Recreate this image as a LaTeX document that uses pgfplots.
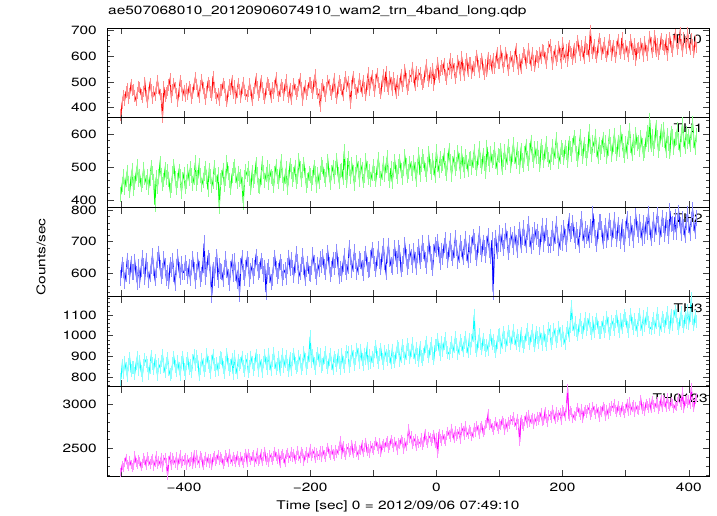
\documentclass[border=0pt]{standalone}
\usepackage{fontspec}
\setmainfont{TeX Gyre Heros}[FakeStretch=1.29]
\usepackage{pgfplots}
\usepackage{pgfplotstable}
\pgfplotsset{compat=1.18}
\definecolor{qred}{RGB}{255,0,0}
\definecolor{qgreen}{RGB}{0,255,0}
\definecolor{qblue}{RGB}{0,0,255}
\definecolor{qcyan}{RGB}{0,255,255}
\definecolor{qmagenta}{RGB}{255,0,255}

% TH0, 2 s bins from -500 s
\pgfplotstableread[row sep=\\]{y\\
372\\418\\447\\430\\461\\472\\438\\455\\490\\466\\
470\\445\\429\\458\\483\\478\\451\\440\\463\\497\\
447\\421\\459\\493\\471\\438\\462\\449\\476\\505\\
474\\452\\435\\365\\481\\446\\458\\466\\488\\512\\
440\\469\\495\\478\\455\\427\\462\\503\\484\\449\\
468\\444\\475\\452\\480\\471\\436\\458\\490\\517\\
491\\465\\442\\486\\509\\477\\456\\433\\461\\498\\
486\\461\\447\\522\\479\\456\\438\\453\\428\\470\\
469\\495\\481\\450\\424\\463\\488\\472\\505\\458\\
485\\436\\460\\494\\471\\441\\476\\499\\467\\452\\
445\\463\\492\\468\\430\\457\\475\\511\\482\\448\\
461\\504\\479\\453\\436\\470\\498\\489\\472\\440\\
476\\455\\487\\515\\468\\443\\462\\491\\478\\449\\
488\\507\\462\\441\\475\\432\\466\\493\\471\\454\\
463\\488\\512\\476\\430\\460\\484\\452\\468\\497\\
496\\481\\458\\503\\527\\470\\455\\449\\404\\472\\
489\\462\\443\\478\\506\\491\\466\\452\\485\\513\\
461\\437\\475\\503\\488\\470\\448\\496\\520\\482\\
500\\473\\418\\486\\521\\495\\470\\458\\479\\512\\
485\\462\\505\\476\\449\\492\\535\\468\\497\\523\\
488\\463\\510\\531\\497\\474\\456\\502\\527\\485\\
540\\483\\471\\519\\496\\469\\515\\492\\458\\506\\
466\\495\\527\\482\\503\\548\\512\\470\\488\\525\\
522\\556\\518\\487\\540\\503\\528\\534\\509\\491\\
497\\541\\566\\525\\503\\537\\515\\552\\488\\530\\
539\\575\\520\\544\\562\\548\\571\\526\\512\\553\\
548\\591\\532\\570\\551\\516\\538\\583\\559\\527\\
598\\552\\526\\565\\589\\541\\574\\573\\534\\561\\
546\\580\\603\\563\\538\\571\\592\\549\\528\\566\\
540\\595\\568\\583\\551\\589\\552\\578\\612\\571\\
571\\620\\592\\556\\579\\615\\586\\544\\573\\598\\
581\\560\\597\\627\\574\\548\\588\\552\\590\\613\\
606\\571\\595\\628\\590\\566\\612\\583\\560\\601\\
597\\578\\615\\590\\624\\620\\594\\571\\608\\635\\
645\\617\\569\\599\\623\\584\\601\\638\\610\\573\\
652\\607\\594\\626\\580\\641\\618\\611\\588\\630\\
597\\635\\660\\623\\602\\640\\618\\592\\655\\628\\
625\\601\\700\\630\\612\\645\\612\\596\\633\\668\\
648\\607\\632\\653\\616\\598\\627\\662\\640\\603\\
642\\618\\595\\637\\664\\626\\610\\671\\629\\606\\
641\\619\\598\\635\\662\\627\\609\\648\\583\\630\\
633\\612\\650\\627\\601\\655\\622\\604\\641\\676\\
652\\614\\638\\681\\620\\649\\607\\626\\668\\645\\
641\\625\\662\\603\\648\\671\\636\\618\\659\\684\\
664\\627\\650\\689\\644\\618\\672\\657\\631\\690\\
652\\626\\668\\643\\615\\661\\634\\
}\tA

% TH1
\pgfplotstableread[row sep=\\]{y\\
418\\447\\472\\439\\461\\485\\450\\428\\466\\491\\
436\\452\\479\\503\\462\\473\\446\\458\\494\\467\\
454\\471\\438\\465\\498\\482\\457\\386\\469\\441\\
472\\510\\476\\449\\461\\493\\468\\487\\463\\430\\
445\\480\\502\\466\\437\\459\\488\\471\\426\\463\\
479\\440\\455\\487\\465\\496\\474\\451\\468\\513\\
450\\468\\505\\474\\446\\459\\481\\497\\470\\432\\
489\\472\\443\\457\\498\\476\\452\\478\\380\\461\\
469\\491\\447\\466\\515\\482\\460\\437\\475\\494\\
503\\474\\456\\481\\462\\471\\449\\392\\468\\486\\
476\\496\\466\\439\\483\\458\\470\\507\\479\\445\\
441\\469\\512\\485\\460\\477\\498\\452\\488\\471\\
466\\443\\481\\503\\472\\455\\490\\517\\474\\449\\
471\\495\\438\\469\\506\\487\\462\\478\\500\\456\\
470\\520\\495\\463\\488\\509\\476\\445\\459\\481\\
474\\451\\468\\499\\482\\445\\478\\456\\482\\507\\
500\\473\\462\\491\\518\\476\\452\\484\\500\\470\\
497\\521\\479\\455\\488\\491\\468\\547\\483\\460\\
527\\495\\470\\508\\485\\451\\478\\513\\496\\462\\
506\\492\\458\\474\\519\\496\\468\\487\\462\\479\\
503\\480\\461\\497\\524\\489\\466\\482\\512\\478\\
503\\528\\481\\459\\497\\455\\493\\517\\485\\470\\
501\\518\\489\\468\\494\\532\\505\\473\\487\\512\\
496\\480\\514\\492\\463\\503\\537\\476\\508\\531\\
518\\491\\476\\509\\540\\502\\483\\521\\497\\474\\
546\\507\\490\\525\\503\\511\\534\\496\\481\\519\\
549\\516\\478\\512\\528\\494\\509\\543\\521\\487\\
541\\507\\488\\532\\515\\493\\524\\526\\499\\518\\
548\\512\\496\\527\\555\\519\\501\\536\\510\\487\\
561\\524\\507\\542\\518\\529\\553\\517\\499\\536\\
533\\551\\498\\521\\546\\512\\528\\563\\539\\504\\
538\\568\\531\\515\\553\\527\\502\\549\\520\\506\\
541\\564\\526\\511\\549\\576\\537\\518\\555\\532\\
556\\530\\507\\563\\544\\518\\547\\571\\538\\522\\
512\\536\\562\\528\\545\\583\\550\\517\\532\\559\\
551\\528\\560\\542\\518\\572\\556\\537\\566\\589\\
571\\540\\523\\558\\593\\556\\531\\569\\548\\526\\
548\\607\\561\\537\\575\\563\\594\\553\\532\\570\\
543\\560\\585\\551\\574\\530\\556\\592\\569\\538\\
566\\597\\560\\539\\576\\552\\604\\578\\549\\533\\
571\\546\\588\\612\\565\\541\\579\\557\\598\\570\\
575\\551\\589\\566\\540\\548\\583\\605\\568\\642\\
568\\593\\555\\576\\620\\590\\548\\571\\607\\582\\
614\\578\\550\\597\\571\\545\\603\\592\\557\\584\\
587\\615\\574\\552\\596\\628\\581\\560\\603\\577\\
592\\566\\604\\631\\580\\558\\596\\
}\tB

% TH2
\pgfplotstableread[row sep=\\]{y\\
585\\628\\611\\574\\596\\640\\618\\592\\631\\603\\
605\\637\\598\\571\\620\\577\\614\\648\\622\\589\\
638\\612\\579\\597\\624\\655\\616\\583\\609\\643\\
663\\618\\590\\608\\645\\622\\585\\601\\574\\626\\
612\\640\\596\\568\\621\\652\\610\\587\\629\\604\\
602\\633\\615\\590\\621\\583\\618\\645\\609\\576\\
604\\641\\615\\581\\596\\627\\695\\588\\612\\650\\
639\\596\\530\\612\\586\\627\\651\\579\\622\\608\\
603\\580\\618\\644\\611\\588\\570\\615\\636\\598\\
639\\601\\576\\611\\535\\622\\648\\605\\584\\617\\
645\\628\\581\\607\\622\\590\\616\\652\\631\\604\\
611\\640\\623\\597\\618\\540\\608\\619\\594\\573\\
586\\625\\649\\614\\592\\607\\636\\621\\583\\603\\
609\\588\\624\\650\\617\\642\\618\\595\\627\\661\\
636\\590\\603\\628\\654\\621\\584\\612\\631\\599\\
598\\618\\657\\634\\607\\589\\628\\612\\645\\626\\
651\\619\\603\\639\\665\\628\\596\\614\\643\\621\\
641\\669\\626\\592\\615\\597\\630\\655\\618\\604\\
624\\681\\652\\610\\630\\667\\638\\605\\621\\646\\
639\\617\\601\\645\\663\\628\\610\\612\\648\\674\\
655\\631\\612\\647\\676\\640\\619\\660\\686\\635\\
605\\657\\688\\646\\625\\618\\653\\679\\644\\623\\
681\\664\\612\\629\\656\\690\\651\\619\\637\\668\\
652\\627\\670\\643\\618\\659\\684\\638\\661\\695\\
671\\642\\624\\660\\698\\663\\635\\616\\667\\690\\
678\\700\\659\\636\\672\\652\\688\\706\\669\\641\\
677\\702\\664\\648\\672\\712\\681\\640\\657\\695\\
676\\650\\684\\710\\663\\641\\697\\658\\689\\715\\
703\\668\\648\\691\\725\\684\\660\\698\\679\\657\\
694\\718\\672\\655\\705\\540\\687\\713\\670\\692\\
727\\693\\718\\679\\701\\735\\709\\666\\688\\721\\
706\\683\\724\\698\\672\\715\\739\\690\\716\\744\\
712\\689\\731\\756\\708\\685\\722\\700\\737\\716\\
733\\708\\684\\724\\752\\694\\728\\749\\713\\689\\
689\\712\\740\\695\\718\\757\\722\\681\\700\\729\\
697\\744\\716\\692\\730\\766\\724\\735\\760\\721\\
702\\738\\715\\690\\747\\772\\727\\706\\741\\718\\
728\\704\\748\\721\\790\\746\\712\\694\\733\\762\\
763\\740\\701\\727\\752\\705\\731\\768\\745\\710\\
737\\770\\733\\710\\754\\729\\703\\748\\716\\694\\
741\\772\\736\\711\\756\\729\\705\\748\\781\\740\\
722\\764\\738\\712\\759\\719\\755\\730\\790\\747\\
713\\737\\769\\724\\748\\785\\757\\716\\741\\776\\
752\\726\\770\\744\\719\\798\\755\\758\\731\\779\\
730\\768\\793\\754\\727\\772\\746\\720\\763\\788\\
752\\729\\771\\801\\758\\733\\776\\
}\tC

% TH3
\pgfplotstableread[row sep=\\]{y\\
790\\856\\820\\871\\843\\808\\862\\889\\831\\848\\
846\\819\\863\\897\\837\\875\\829\\807\\858\\884\\
873\\857\\816\\848\\901\\866\\839\\880\\852\\811\\
861\\847\\878\\905\\852\\826\\868\\889\\834\\812\\
822\\865\\893\\851\\830\\874\\841\\812\\869\\896\\
835\\818\\866\\889\\843\\857\\826\\879\\904\\860\\
900\\877\\814\\840\\886\\863\\829\\855\\908\\872\\
851\\823\\878\\905\\859\\832\\866\\836\\869\\894\\
891\\847\\820\\873\\909\\862\\838\\857\\884\\815\\
902\\846\\821\\880\\858\\868\\897\\853\\829\\875\\
886\\825\\850\\897\\871\\838\\862\\906\\879\\833\\
881\\858\\826\\873\\904\\867\\840\\912\\864\\837\\
879\\915\\868\\842\\859\\893\\835\\877\\908\\851\\
876\\902\\858\\831\\889\\838\\884\\912\\867\\845\\
854\\899\\880\\839\\861\\918\\885\\843\\870\\906\\
995\\876\\903\\865\\840\\889\\914\\881\\908\\852\\
860\\893\\919\\871\\848\\886\\910\\864\\841\\897\\
879\\857\\903\\869\\843\\908\\872\\850\\895\\924\\
917\\853\\878\\925\\899\\861\\889\\936\\910\\872\\
931\\884\\862\\912\\889\\937\\866\\906\\870\\897\\
880\\921\\946\\895\\870\\909\\934\\887\\863\\925\\
905\\883\\927\\899\\870\\931\\892\\874\\916\\948\\
940\\878\\901\\951\\925\\888\\913\\958\\934\\895\\
928\\962\\919\\894\\937\\910\\881\\942\\901\\885\\
908\\946\\970\\925\\899\\938\\962\\914\\889\\953\\
955\\981\\933\\908\\969\\928\\962\\987\\944\\919\\
912\\941\\966\\924\\947\\990\\959\\915\\936\\975\\
958\\930\\968\\994\\945\\921\\980\\939\\975\\1001\\
1100\\948\\927\\971\\1004\\960\\936\\983\\955\\929\\
954\\931\\977\\1003\\960\\975\\946\\923\\968\\1000\\
1006\\944\\968\\1015\\990\\951\\979\\1023\\998\\962\\
993\\1027\\985\\960\\1002\\976\\950\\1010\\970\\948\\
969\\1005\\1031\\988\\962\\999\\1024\\977\\953\\1015\\
992\\967\\1011\\984\\957\\1019\\978\\956\\1001\\1035\\
1022\\961\\985\\1031\\1008\\970\\997\\1038\\1012\\975\\
1021\\985\\964\\1012\\1038\\1000\\1045\\1140\\1052\\1030\\
1062\\1025\\1003\\1049\\1078\\1038\\1015\\1057\\1084\\1031\\
1053\\1079\\1035\\1009\\1065\\1020\\1058\\1081\\1040\\1016\\
1015\\1040\\1066\\1021\\1046\\1090\\1058\\1012\\1030\\1071\\
1055\\1029\\1067\\1092\\1046\\1020\\1080\\1038\\1075\\1098\\
1083\\1042\\1022\\1068\\1101\\1059\\1034\\1077\\1052\\1027\\
1078\\1103\\1056\\1031\\1091\\1047\\1085\\1110\\1066\\1040\\
1034\\1058\\1083\\1039\\1063\\1108\\1075\\1029\\1050\\1090\\
1072\\1045\\1084\\1111\\1062\\1038\\1099\\1053\\1092\\1118\\
1097\\1057\\1034\\1080\\1114\\1068\\1044\\1089\\1063\\1120\\
1060\\1099\\1180\\1082\\1052\\1093\\1070\\
}\tD

% TH0123
\pgfplotstableread[row sep=\\]{y\\
2230\\2308\\2280\\2345\\2390\\2322\\2294\\2363\\2315\\2285\\
2308\\2414\\2341\\2318\\2376\\2353\\2292\\2326\\2392\\2366\\
2307\\2404\\2359\\2325\\2367\\2385\\2302\\2338\\2416\\2318\\
2358\\2326\\2399\\2289\\2373\\2391\\2345\\2195\\2367\\2412\\
2305\\2391\\2366\\2336\\2403\\2313\\2373\\2431\\2330\\2358\\
2370\\2392\\2307\\2379\\2344\\2350\\2403\\2319\\2427\\2332\\
2428\\2361\\2335\\2418\\2396\\2309\\2367\\2411\\2342\\2389\\
2335\\2385\\2303\\2397\\2419\\2356\\2376\\2425\\2368\\2403\\
2386\\2325\\2359\\2425\\2399\\2341\\2447\\2374\\2351\\2409\\
2375\\2347\\2416\\2368\\2338\\2407\\2361\\2333\\2398\\2443\\
2347\\2444\\2399\\2365\\2407\\2425\\2342\\2378\\2456\\2358\\
2372\\2439\\2349\\2409\\2467\\2366\\2394\\2341\\2427\\2402\\
2361\\2414\\2459\\2405\\2373\\2446\\2336\\2420\\2438\\2392\\
2339\\2433\\2455\\2392\\2412\\2461\\2404\\2439\\2371\\2421\\
2478\\2411\\2385\\2468\\2446\\2359\\2417\\2461\\2392\\2439\\
2502\\2407\\2445\\2467\\2382\\2454\\2419\\2425\\2478\\2394\\
2476\\2430\\2402\\2467\\2512\\2444\\2416\\2485\\2437\\2407\\
2482\\2440\\2474\\2519\\2590\\2433\\2531\\2453\\2417\\2500\\
2511\\2453\\2476\\2549\\2443\\2501\\2527\\2461\\2427\\2488\\
2476\\2543\\2453\\2513\\2571\\2470\\2498\\2445\\2531\\2506\\
2479\\2532\\2577\\2523\\2491\\2564\\2454\\2538\\2556\\2510\\
2566\\2588\\2505\\2531\\2598\\2559\\2512\\2581\\2537\\2479\\
2562\\2542\\2605\\2583\\2489\\2571\\2521\\2589\\2720\\2611\\
2642\\2547\\2585\\2607\\2522\\2594\\2559\\2565\\2618\\2534\\
2573\\2671\\2593\\2557\\2640\\2622\\2580\\2614\\2659\\2562\\
2622\\2440\\2663\\2615\\2585\\2654\\2608\\2580\\2645\\2690\\
2656\\2628\\2729\\2671\\2611\\2701\\2634\\2664\\2689\\2603\\
2733\\2707\\2649\\2755\\2682\\2659\\2717\\2694\\2633\\2667\\
2734\\2687\\2756\\2712\\2654\\2741\\2763\\2680\\2706\\2773\\
2789\\2890\\2763\\2781\\2735\\2704\\2757\\2802\\2748\\2716\\
2777\\2757\\2820\\2798\\2704\\2786\\2736\\2804\\2769\\2826\\
2815\\2860\\2792\\2764\\2833\\2785\\2575\\2824\\2778\\2750\\
2810\\2863\\2779\\2887\\2792\\2830\\2852\\2767\\2839\\2804\\
2865\\2823\\2857\\2902\\2805\\2816\\2914\\2836\\2800\\2883\\
2870\\2842\\2943\\2885\\2825\\2915\\2848\\2878\\2903\\2817\\
2942\\2916\\2858\\2964\\3180\\2868\\2926\\2903\\2842\\2876\\
2864\\2917\\2962\\2908\\2876\\2949\\2839\\2923\\2941\\2895\\
2941\\2963\\2880\\2906\\2973\\2934\\2887\\2956\\2912\\2854\\
2932\\2912\\2975\\2953\\2859\\2941\\2891\\2959\\2924\\2981\\
2963\\3008\\2940\\2912\\2981\\2933\\2903\\2972\\2926\\2898\\
2950\\3003\\2919\\3027\\2932\\2970\\2992\\2907\\2979\\2944\\
2931\\2991\\3049\\2948\\2976\\2923\\3009\\2984\\2954\\3021\\
2949\\3046\\3001\\2967\\3009\\3027\\2944\\2980\\3058\\2960\\
3052\\3026\\2968\\3074\\3001\\2978\\3036\\3013\\2952\\2986\\
2977\\3030\\3075\\3021\\2989\\3140\\2952\\3036\\3054\\3008\\
3049\\3002\\3190\\3027\\2969\\3056\\3078\\
}\tE

\pgfplotsset{
  panel/.style={
    scale only axis, width=602bp, height=89.6bp, anchor=north west,
    xmin=-522, xmax=432,
    xtick={-500,-400,...,400}, xticklabel=\empty,
    tick align=inside, major tick length=6.5bp, minor tick length=3.2bp,
    axis line style={line width=0.8bp},
    every tick/.style={line width=0.6bp, black!75},
    yticklabel style={xshift=-6bp},
    xticklabel style={yshift=-3bp},
    /pgf/number format/1000 sep={},
    /pgf/number format/assume math mode=true,
  },
  halo/.style 2 args={#1!45!white, line width=1.1bp,
    mark=|, mark size=#2, mark options={#1!45!white, line width=0.8bp}},
  main/.style={#1, line width=0.8bp, mark=none},
}

\begin{document}
\fontsize{12}{14}\selectfont
\begin{tikzpicture}
\path[use as bounding box] (-107bp,28bp) rectangle (610bp,-488bp);

\begin{axis}[panel, at={(0,0)}, ymin=362, ymax=709,
  ytick={400,500,600,700}, minor ytick={380,400,...,700},
  title={ae507068010\_20120906074910\_wam2\_trn\_4band\_long.qdp},
  title style={at={(0.0017,1.0893)}, anchor=base west, inner sep=0pt}]
\addplot[halo={qred}{5.7bp}] table[x expr=-500+2*\coordindex, y index=0] {\tA};
\addplot[main=qred] table[x expr=-500+2*\coordindex, y index=0] {\tA};
\node[anchor=base east, inner sep=0pt] at (axis description cs:0.9884,0.829) {TH0};
\end{axis}

\begin{axis}[panel, at={(0,-89.6bp)}, ymin=379, ymax=649,
  ytick={400,500,600}, minor ytick={380,400,...,640}]
\addplot[halo={qgreen}{7.3bp}] table[x expr=-500+2*\coordindex, y index=0] {\tB};
\addplot[main=qgreen] table[x expr=-500+2*\coordindex, y index=0] {\tB};
\node[anchor=base east, inner sep=0pt] at (axis description cs:0.99,0.829) {TH1};
\end{axis}

\begin{axis}[panel, at={(0,-179.2bp)}, ymin=525, ymax=810,
  ytick={600,700,800}, minor ytick={540,560,...,800},
  ylabel={Counts/sec},
  ylabel style={at={(-0.1096,0.444)}, anchor=center, inner sep=0pt}]
\addplot[halo={qblue}{7.9bp}] table[x expr=-500+2*\coordindex, y index=0] {\tC};
\addplot[main=qblue] table[x expr=-500+2*\coordindex, y index=0] {\tC};
\node[anchor=base east, inner sep=0pt] at (axis description cs:0.99,0.829) {TH2};
\end{axis}

\begin{axis}[panel, at={(0,-268.8bp)}, ymin=755, ymax=1188,
  ytick={800,900,1000,1100}, minor ytick={760,780,...,1180}]
\addplot[halo={qcyan}{6.4bp}] table[x expr=-500+2*\coordindex, y index=0] {\tD};
\addplot[main=qcyan] table[x expr=-500+2*\coordindex, y index=0] {\tD};
\node[anchor=base east, inner sep=0pt] at (axis description cs:0.99,0.829) {TH3};
\end{axis}

\begin{axis}[panel, at={(0,-358.4bp)}, ymin=2188, ymax=3203,
  ytick={2500,3000}, minor ytick={2200,2300,...,3200},
  xticklabels={,−400,,−200,,0,,200,,400},
  xlabel={Time [sec] 0 = 2012/09/06 07:49:10},
  xlabel style={at={(0.4834,-0.3683)}, anchor=base, inner sep=0pt}]
\addplot[halo={qmagenta}{4.6bp}] table[x expr=-500+2*\coordindex, y index=0] {\tE};
\addplot[main=qmagenta] table[x expr=-500+2*\coordindex, y index=0] {\tE};
\node[anchor=base east, inner sep=0pt] at (axis description cs:0.998,0.823) {TH0123};
\end{axis}
\end{tikzpicture}
\end{document}
